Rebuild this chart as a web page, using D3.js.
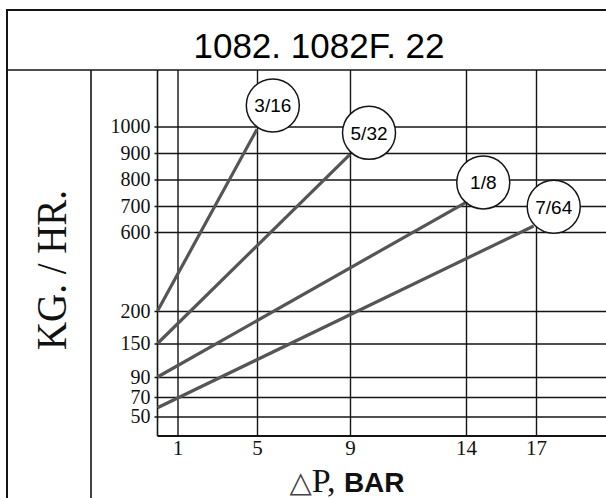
<!DOCTYPE html>
<html>
<head>
<meta charset="utf-8">
<script src="https://cdn.jsdelivr.net/npm/d3@7/dist/d3.min.js"></script>
<style>
  html, body { margin: 0; padding: 0; background: #fff; }
  svg { display: block; }
</style>
</head>
<body>
<svg id="chart" width="606" height="498"></svg>
<script>
// ---- data ----
const title = "1082. 1082F. 22";
const xTicks = [1, 5, 9, 14, 17];
const yTicks = [50, 70, 90, 150, 200, 600, 700, 800, 900, 1000];
const series = ["3/16", "5/32", "1/8", "7/64"];
const startDP = [0, 0, 0, 0];
const startFlow = [200, 150, 90, 59];
const endDP = [5, 9, 14, 16.9];
const endFlow = [990, 895, 714, 623];
const labelDP = [5.68, 9.82, 14.74, 17.76];
const labelFlow = [1079, 976, 789, 697];

// ---- layout ----
const W = 606, H = 498;
const frameL = 7, frameT = 10, sepY = 70, colX = 91;
const plotL = 157.5, plotB = 436, plotR = W;

const svg = d3.select("#chart");

// non-uniform chart scales (as printed on the original sheet)
const x = d3.scaleLinear()
  .domain([0, 1, 5, 9, 14, 17])
  .range([plotL, 177.5, 257, 350, 466, 536]);
const y = d3.scaleLinear()
  .domain([30, 50, 70, 90, 150, 200, 600, 700, 800, 900, 1000])
  .range([plotB, 416.5, 397, 377, 343.5, 311, 232, 206, 179.5, 153, 126.5]);

const ink = "#151515";

// ---- frame ----
const frame = svg.append("g").attr("stroke", ink).attr("fill", "none");
frame.append("line").attr("x1", frameL).attr("x2", W).attr("y1", frameT).attr("y2", frameT).attr("stroke-width", 2);
frame.append("line").attr("x1", frameL).attr("x2", frameL).attr("y1", frameT - 1).attr("y2", H).attr("stroke-width", 2);
frame.append("line").attr("x1", frameL).attr("x2", W).attr("y1", sepY).attr("y2", sepY).attr("stroke-width", 1.6);
frame.append("line").attr("x1", colX).attr("x2", colX).attr("y1", sepY).attr("y2", H).attr("stroke-width", 1.6);

// ---- title ----
svg.append("text")
  .attr("x", 319).attr("y", 58)
  .attr("text-anchor", "middle")
  .attr("font-family", "'Liberation Sans', Arial, sans-serif")
  .attr("font-size", 35)
  .attr("fill", "#000")
  .text(title);

// ---- grid via axes ----
const yAxis = d3.axisLeft(y)
  .tickValues(yTicks)
  .tickSizeInner(-(plotR - plotL))
  .tickSizeOuter(0)
  .tickPadding(7)
  .tickFormat(d3.format("d"));
const gy = svg.append("g").attr("transform", `translate(${plotL},0)`).call(yAxis);
gy.select(".domain").remove();
gy.selectAll(".tick line").attr("stroke", ink).attr("stroke-width", 1.4).attr("x1", -3);
gy.selectAll(".tick text")
  .attr("font-family", "'Liberation Serif', 'Times New Roman', serif")
  .attr("font-size", 20)
  .attr("fill", "#111")
  .attr("x", -7);

const xAxis = d3.axisBottom(x)
  .tickValues(xTicks)
  .tickSizeInner(-(plotB - sepY))
  .tickSizeOuter(0)
  .tickPadding(6)
  .tickFormat(d3.format("d"));
const gx = svg.append("g").attr("transform", `translate(0,${plotB})`).call(xAxis);
gx.select(".domain").remove();
gx.selectAll(".tick line").attr("stroke", ink).attr("stroke-width", 1.4);
gx.selectAll(".tick text")
  .attr("font-family", "'Liberation Serif', 'Times New Roman', serif")
  .attr("font-size", 21)
  .attr("fill", "#111")
  .attr("y", 4)
  .attr("dy", "0.71em");

// plot frame lines (left edge + bottom axis)
svg.append("line").attr("x1", plotL).attr("x2", plotL).attr("y1", sepY).attr("y2", plotB)
  .attr("stroke", ink).attr("stroke-width", 1.6);
svg.append("line").attr("x1", plotL).attr("x2", plotR).attr("y1", plotB).attr("y2", plotB)
  .attr("stroke", ink).attr("stroke-width", 2);

// ---- series lines ----
const rows = series.map((s, i) => ({
  name: s,
  pts: [[startDP[i], startFlow[i]], [endDP[i], endFlow[i]]],
  lx: labelDP[i], ly: labelFlow[i]
}));
const line = d3.line().x(d => x(d[0])).y(d => y(d[1]));
svg.append("g").selectAll("path").data(rows).join("path")
  .attr("d", d => line(d.pts))
  .attr("fill", "none")
  .attr("stroke", "#555")
  .attr("stroke-width", 3.2)
  .attr("stroke-linecap", "butt");

// ---- size labels in circles ----
const lab = svg.append("g").selectAll("g").data(rows).join("g")
  .attr("transform", d => `translate(${x(d.lx)},${y(d.ly)})`);
lab.append("circle").attr("r", 26.5).attr("fill", "#fff").attr("stroke", ink).attr("stroke-width", 1.5);
lab.append("text")
  .attr("text-anchor", "middle").attr("dy", "0.36em")
  .attr("font-family", "'Liberation Sans', Arial, sans-serif")
  .attr("font-size", 19)
  .attr("fill", "#000")
  .text(d => d.name);

// ---- axis titles ----
svg.append("text")
  .attr("transform", "translate(66,270) rotate(-90)")
  .attr("text-anchor", "middle")
  .attr("font-family", "'Liberation Serif', 'Times New Roman', serif")
  .attr("font-size", 42)
  .attr("textLength", 160)
  .attr("lengthAdjust", "spacingAndGlyphs")
  .attr("fill", "#111")
  .text("KG. / HR.");

const xt = svg.append("text")
  .attr("x", 347).attr("y", 492)
  .attr("text-anchor", "middle")
  .attr("fill", "#111");
xt.append("tspan")
  .attr("font-family", "'DejaVu Sans', sans-serif")
  .attr("font-size", 29)
  .attr("fill", "#444")
  .text("△");
xt.append("tspan")
  .attr("font-family", "'Liberation Serif', 'Times New Roman', serif")
  .attr("font-size", 34)
  .text("P, ");
xt.append("tspan")
  .attr("font-family", "'Liberation Sans', Arial, sans-serif")
  .attr("font-weight", "bold")
  .attr("font-size", 28)
  .text("BAR");
</script>
</body>
</html>
